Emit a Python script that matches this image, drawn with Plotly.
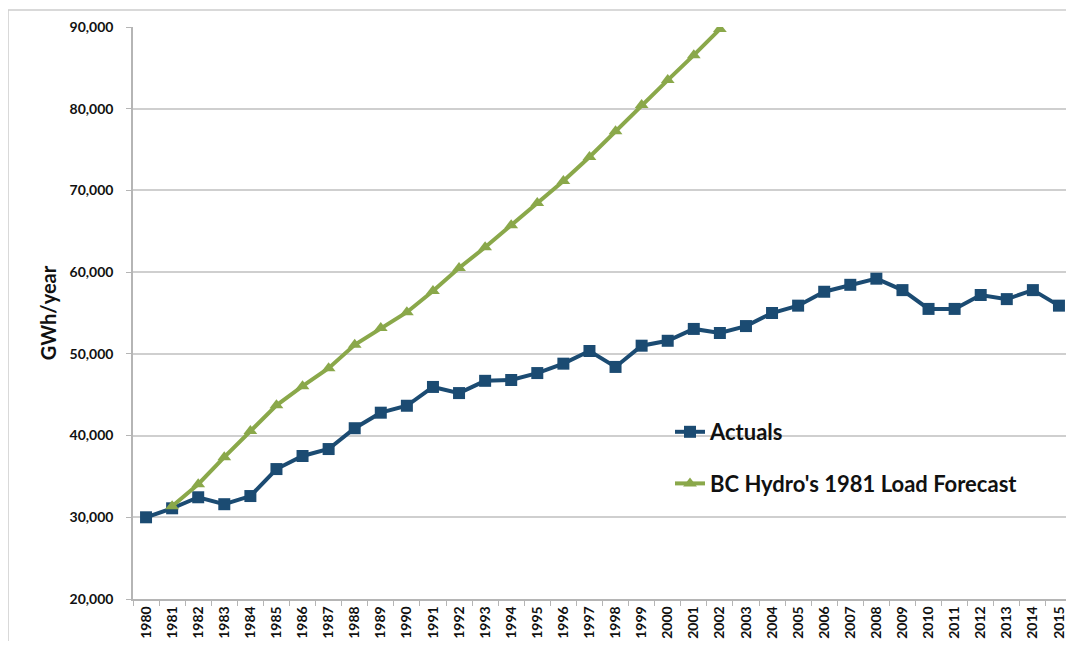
import plotly.graph_objects as go

years = [str(y) for y in range(1980, 2016)]
actuals = [30000, 31100, 32450, 31600, 32600, 35900, 37500, 38350, 40900, 42800,
           43650, 45950, 45200, 46700, 46800, 47650, 48800, 50350, 48400, 51000,
           51600, 53050, 52550, 53400, 55000, 55900, 57600, 58450, 59200, 57800,
           55500, 55500, 57200, 56700, 57800, 55900]
forecast_years = [str(y) for y in range(1981, 2003)]
forecast = [31350, 34050, 37350, 40550, 43700, 46050, 48250, 51100, 53150, 55100,
            57700, 60500, 63050, 65750, 68450, 71150, 74100, 77250, 80450, 83500,
            86550, 89750]

blue = "#1b4b72"
green = "#8aa84a"

fig = go.Figure()
fig.add_trace(go.Scatter(
    x=years, y=actuals, mode="lines+markers", name="Actuals",
    line=dict(color=blue, width=4), legendgroup="a",
    marker=dict(symbol="square", size=12, color=blue),
))
fig.add_trace(go.Scatter(
    x=forecast_years, y=forecast, mode="lines+markers",
    name="BC Hydro's 1981 Load Forecast", legendgroup="b",
    line=dict(color=green, width=4),
    marker=dict(symbol="triangle-up", size=12, color=green),
))

# page offset of the figure (body margin)
OX, OY = 8, 8
# plot area in page coords
PX0, PX1, PY0, PY1 = 133, 1072, 27, 599
L = PX0 - OX
T = PY0 - OY
pw = PX1 - PX0
ph = PY1 - PY0
R = 0
B = 42
W = L + pw + R
H = T + ph + B


def px(xp):
    return (xp - PX0) / pw


def py(yp):
    return (PY1 - yp) / ph


fig.update_layout(
    width=W, height=H,
    margin=dict(l=L, r=R, t=T, b=B),
    paper_bgcolor="white", plot_bgcolor="white",
    font=dict(family="Lato, Open Sans, sans-serif", color="#111111"),
    legend=dict(
        x=px(670), y=py(411), xanchor="left", yanchor="top",
        font=dict(size=22, family="Lato", color="#111111", weight="bold"),
        bgcolor="rgba(0,0,0,0)", traceorder="grouped", tracegroupgap=20,
        itemwidth=30,
    ),
    xaxis=dict(
        type="category", categoryorder="array", categoryarray=years,
        range=[-0.5, 35.5],
        showline=True, linecolor="#b5b5b5", linewidth=1.5,
        ticks="outside", tickson="boundaries", ticklen=5, tickcolor="#b5b5b5",
        tickangle=-90, tickfont=dict(size=14, weight="bold", color="#111111"),
        showgrid=False,
    ),
    yaxis=dict(
        range=[20000, 90000], dtick=10000, tickformat=",",
        showline=True, linecolor="#b5b5b5", linewidth=1.5,
        ticks="outside", ticklen=5, tickcolor="#b5b5b5", ticklabelstandoff=10,
        gridcolor="#cfcfcf", gridwidth=1.5,
        tickfont=dict(size=14, weight="bold", color="#111111"),
        title=dict(text="GWh/year", font=dict(size=20, weight="bold", color="#111111"),
                   standoff=8),
        zeroline=False,
    ),
    shapes=[
        dict(type="line", xref="paper", yref="paper", x0=px(8), x1=1.05, y0=py(10), y1=py(10),
             line=dict(color="#cccccc", width=1.5)),
        dict(type="line", xref="paper", yref="paper", x0=px(8), x1=px(8), y0=py(10), y1=-0.2,
             line=dict(color="#cccccc", width=1.5)),
    ],
)

fig.write_html("out.html")
